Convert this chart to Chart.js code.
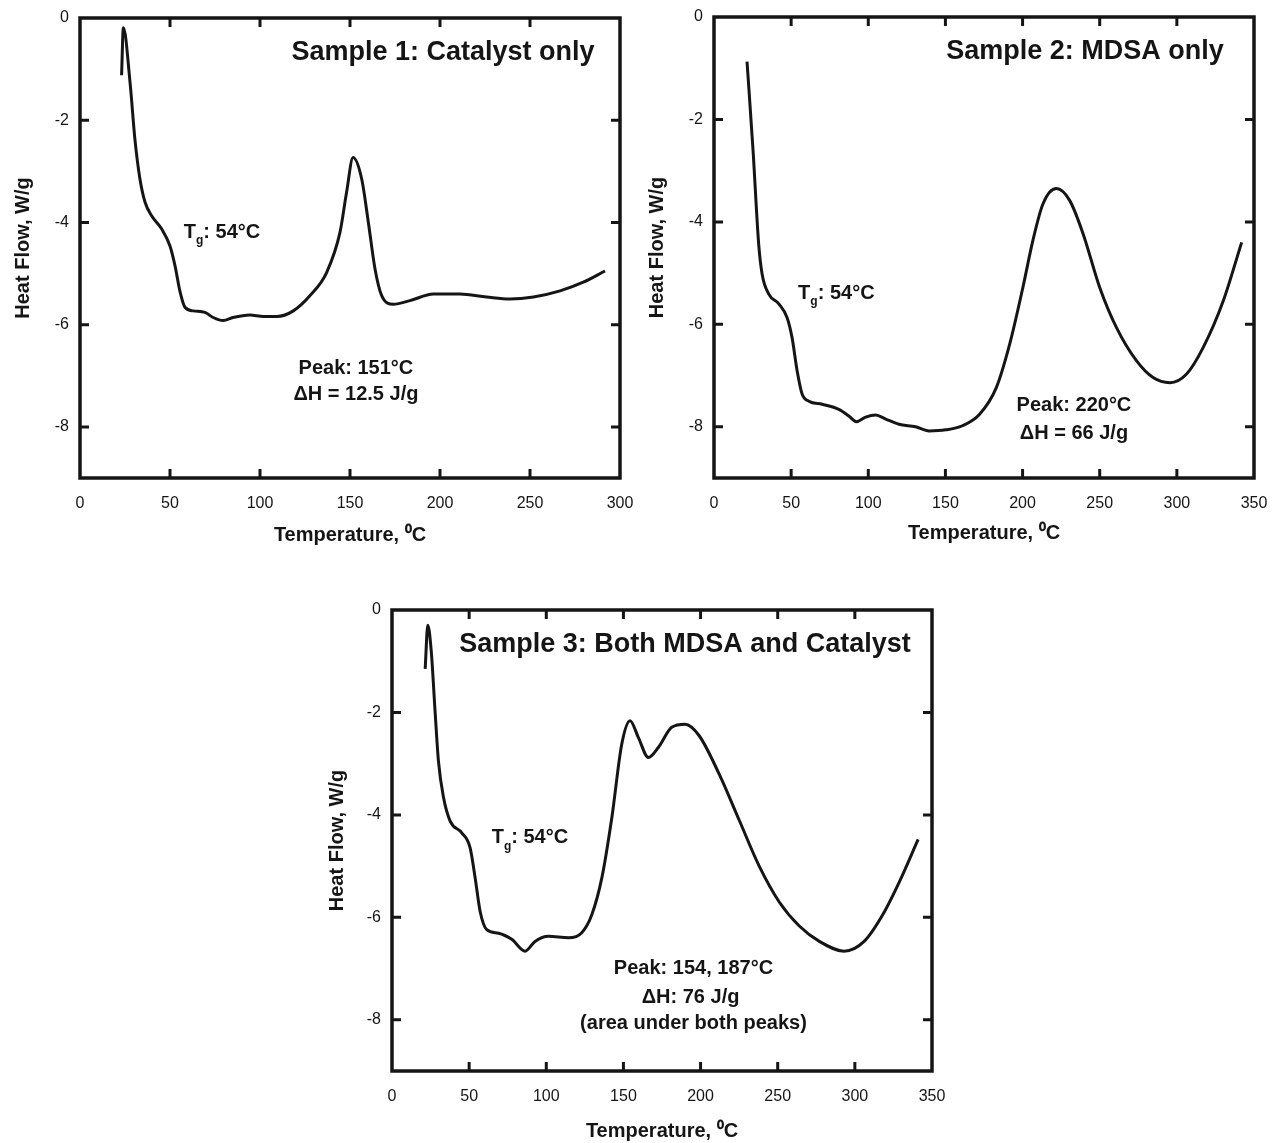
<!DOCTYPE html>
<html>
<head>
<meta charset="utf-8">
<script src="https://cdn.jsdelivr.net/npm/chart.js@4.4.1/dist/chart.umd.min.js"></script>
<style>
    html, body { margin: 0; padding: 0; background: #fff; overflow: hidden; width: 1273px; height: 1143px; }
    canvas { position: absolute; }
</style>
</head>
<body>
<canvas id="dsc1" width="640" height="560" style="left:0px;top:0px"></canvas>
<canvas id="dsc2" width="633" height="560" style="left:640px;top:0px"></canvas>
<canvas id="dsc3" width="660" height="553" style="left:300px;top:590px"></canvas>
<script>
    // Sample 1: catalyst only (temperature in degC, heat flow in W/g)
    var s1Temp = [23.1, 24.1, 27.8, 30.5, 33.3, 36.1, 39.8, 45.4, 50, 52.8, 55.6, 58.3, 63, 69.4, 74, 79.6, 85,
        94.4, 101.9, 109.3, 118.5, 127.8, 137, 144.4, 148.1, 151.7, 156.5, 160.2, 163.9, 167.6, 174.1, 183.3,
        196.3, 211, 225.9, 238.9, 251.9, 266.7, 279.6, 291.7];
    var s1Flow = [-1.12, -0.19, -1.26, -2.37, -3.15, -3.6, -3.87, -4.13, -4.46, -4.85, -5.36, -5.66, -5.73, -5.76,
        -5.86, -5.92, -5.86, -5.81, -5.84, -5.84, -5.73, -5.43, -4.98, -4.2, -3.41, -2.73, -3.15, -4.0, -4.91,
        -5.43, -5.6, -5.53, -5.4, -5.4, -5.46, -5.5, -5.46, -5.34, -5.17, -4.95];

    // Sample 2: MDSA only
    var s2Temp = [21.4, 25.3, 29, 31.2, 35.5, 42, 47.4, 50.6, 53.9, 57.1, 61.5, 70.1, 80.9, 87.4, 92.2, 98.3,
        104.8, 111.3, 119.9, 130.7, 139.4, 150.2, 161, 172, 182.9, 191.6, 200.2, 206.7, 213.2, 221.9, 230.5,
        239.2, 250, 260.8, 273.8, 284.6, 295.5, 306.3, 317.1, 330.1, 342];
    var s2Flow = [-0.87, -2.6, -4.45, -5.02, -5.41, -5.6, -5.87, -6.26, -6.91, -7.36, -7.5, -7.56, -7.66, -7.79,
        -7.9, -7.81, -7.77, -7.85, -7.95, -8.0, -8.08, -8.06, -7.98, -7.76, -7.24, -6.39, -5.28, -4.36, -3.65,
        -3.35, -3.58, -4.23, -5.28, -6.06, -6.71, -7.04, -7.14, -6.97, -6.45, -5.54, -4.4];

    // Sample 3: both MDSA and catalyst
    var s3Temp = [21.5, 23.2, 25.4, 27.9, 30.1, 33.4, 37.7, 45.2, 50.6, 53.9, 57.1, 61.4, 69, 77.6, 86.3, 92.7,
        101.4, 114.4, 123, 129.5, 136, 142.5, 148.9, 154.3, 159.7, 166.2, 172.7, 181.3, 190, 199, 212, 225, 238,
        251, 264, 277, 293, 306, 319, 329, 341];
    var s3Flow = [-1.15, -0.3, -0.79, -1.97, -2.95, -3.66, -4.12, -4.35, -4.64, -5.23, -5.88, -6.24, -6.31, -6.43,
        -6.66, -6.47, -6.37, -6.4, -6.3, -5.95, -5.23, -4.05, -2.62, -2.16, -2.49, -2.88, -2.68, -2.29, -2.23,
        -2.45, -3.2, -4.1, -5.0, -5.7, -6.17, -6.47, -6.66, -6.47, -5.9, -5.3, -4.48];

    var yTicks = [0, -2, -4, -6, -8];
    var xTicks300 = [0, 50, 100, 150, 200, 250, 300];
    var xTicks350 = [0, 50, 100, 150, 200, 250, 300, 350];

    var INK = '#151515';
    var FONT = "'Liberation Sans', Arial, Helvetica, sans-serif";
    var TICK_LEN = 9;

    // cadre complet + graduations vers l'intérieur sur les quatre côtés
    var framePlugin = {
        id: 'frame',
        afterDatasetsDraw: function (chart) {
            var a = chart.chartArea, ctx = chart.ctx;
            var sx = chart.scales.x, sy = chart.scales.y;
            ctx.save();
            ctx.strokeStyle = INK;
            ctx.lineWidth = 3.5;
            ctx.strokeRect(a.left, a.top, a.right - a.left, a.bottom - a.top);
            ctx.lineWidth = 3;
            ctx.beginPath();
            sx.ticks.forEach(function (tk) {
                if (tk.value <= sx.min || tk.value >= sx.max) return;
                var px = sx.getPixelForValue(tk.value);
                ctx.moveTo(px, a.bottom); ctx.lineTo(px, a.bottom - TICK_LEN);
                ctx.moveTo(px, a.top); ctx.lineTo(px, a.top + TICK_LEN);
            });
            sy.ticks.forEach(function (tk) {
                if (tk.value <= sy.min || tk.value >= sy.max) return;
                var py = sy.getPixelForValue(tk.value);
                ctx.moveTo(a.left, py); ctx.lineTo(a.left + TICK_LEN, py);
                ctx.moveTo(a.right, py); ctx.lineTo(a.right - TICK_LEN, py);
            });
            ctx.stroke();
            ctx.restore();
        }
    };

    // textes dans le graphique (titre, Tg, pic) avec indices
    var notesPlugin = {
        id: 'notes',
        afterDraw: function (chart, args, opts) {
            var ctx = chart.ctx;
            var sx = chart.scales.x, sy = chart.scales.y;
            (opts.items || []).forEach(function (note) {
                var size = note.size;
                var parts = note.parts.map(function (p) {
                    var s = p.sub ? Math.round(size * 0.62) : size;
                    ctx.font = 'bold ' + s + 'px ' + FONT;
                    return { text: p.text, size: s, dy: p.sub ? size * 0.45 : 0, w: ctx.measureText(p.text).width };
                });
                var total = parts.reduce(function (acc, p) { return acc + p.w; }, 0);
                var x = sx.getPixelForValue(note.t) - total / 2;
                var y = sy.getPixelForValue(note.v);
                ctx.save();
                ctx.fillStyle = INK;
                ctx.textBaseline = 'middle';
                ctx.textAlign = 'left';
                parts.forEach(function (p) {
                    ctx.font = 'bold ' + p.size + 'px ' + FONT;
                    ctx.fillText(p.text, x, y + p.dy);
                    x += p.w;
                });
                ctx.restore();
            });
        }
    };

    function plain(text, t, v, size) {
        return { t: t, v: v, size: size, parts: [{ text: text }] };
    }

    function tgNote(t, v) {
        return { t: t, v: v, size: 20, parts: [{ text: 'T' }, { text: 'g', sub: true }, { text: ': 54°C' }] };
    }

    function buildChart(id, temps, flows, xTicks, xMax, box, titlePad, notes) {
        var canvas = document.getElementById(id);
        var W = canvas.width, H = canvas.height;
        var points = temps.map(function (t, i) { return { x: t, y: flows[i] }; });

        return new Chart(canvas, {
            type: 'line',
            data: {
                datasets: [{
                    data: points,
                    borderColor: INK,
                    borderWidth: 3,
                    pointRadius: 0,
                    fill: false,
                    cubicInterpolationMode: 'monotone'
                }]
            },
            options: {
                responsive: false,
                animation: false,
                events: [],
                layout: { padding: { top: box.top, right: W - box.right, left: 0, bottom: 0 } },
                plugins: {
                    legend: { display: false },
                    tooltip: { enabled: false },
                    notes: { items: notes }
                },
                scales: {
                    x: {
                        type: 'linear',
                        min: 0,
                        max: xMax,
                        grid: { display: false, drawTicks: false },
                        border: { display: false },
                        afterBuildTicks: function (s) {
                            s.ticks = xTicks.map(function (v) { return { value: v }; });
                        },
                        afterFit: function (s) {
                            s.height = H - box.bottom;
                            s.paddingLeft = 0;
                            s.paddingRight = 0;
                        },
                        ticks: {
                            padding: 16,
                            color: INK,
                            font: { family: FONT, size: 16 },
                            callback: function (v) { return String(v); }
                        },
                        title: {
                            display: true,
                            text: 'Temperature, ⁰C',
                            color: INK,
                            font: { family: FONT, size: 20, weight: 'bold' },
                            padding: { top: 0, bottom: titlePad.x }
                        }
                    },
                    y: {
                        type: 'linear',
                        min: -9,
                        max: 0,
                        grid: { display: false, drawTicks: false },
                        border: { display: false },
                        afterBuildTicks: function (s) {
                            s.ticks = yTicks.map(function (v) { return { value: v }; });
                        },
                        afterFit: function (s) {
                            s.width = box.left;
                            s.paddingTop = 0;
                            s.paddingBottom = 0;
                        },
                        ticks: {
                            padding: 11,
                            color: INK,
                            font: { family: FONT, size: 16 },
                            callback: function (v) { return String(v); }
                        },
                        title: {
                            display: true,
                            text: 'Heat Flow, W/g',
                            color: INK,
                            font: { family: FONT, size: 20, weight: 'bold' },
                            padding: { top: titlePad.y, bottom: 0 }
                        }
                    }
                }
            },
            plugins: [framePlugin, notesPlugin]
        });
    }

    buildChart('dsc1', s1Temp, s1Flow, xTicks300, 300,
        { left: 80, top: 18, right: 620, bottom: 478 }, { x: 13, y: 11 },
        [
            plain('Sample 1: Catalyst only', 201.7, -0.68, 27),
            tgNote(78.9, -4.19),
            plain('Peak: 151°C', 153.3, -6.85, 20),
            plain('ΔH = 12.5 J/g', 153.3, -7.36, 20)
        ]);

    buildChart('dsc2', s2Temp, s2Flow, xTicks350, 350,
        { left: 74, top: 17, right: 614, bottom: 478 }, { x: 15, y: 5 },
        [
            plain('Sample 2: MDSA only', 240.4, -0.68, 27),
            tgNote(79.3, -5.39),
            plain('Peak: 220°C', 233.3, -7.58, 20),
            plain('ΔH = 66 J/g', 233.3, -8.14, 20)
        ]);

    buildChart('dsc3', s3Temp, s3Flow, xTicks350, 350,
        { left: 92, top: 20, right: 632, bottom: 481 }, { x: 0, y: 25 },
        [
            plain('Sample 3: Both MDSA and Catalyst', 189.9, -0.68, 27),
            tgNote(89.4, -4.45),
            plain('Peak: 154, 187°C', 195.4, -6.99, 20),
            plain('ΔH: 76 J/g', 193.5, -7.56, 20),
            plain('(area under both peaks)', 195.4, -8.07, 20)
        ]);
</script>
</body>
</html>
